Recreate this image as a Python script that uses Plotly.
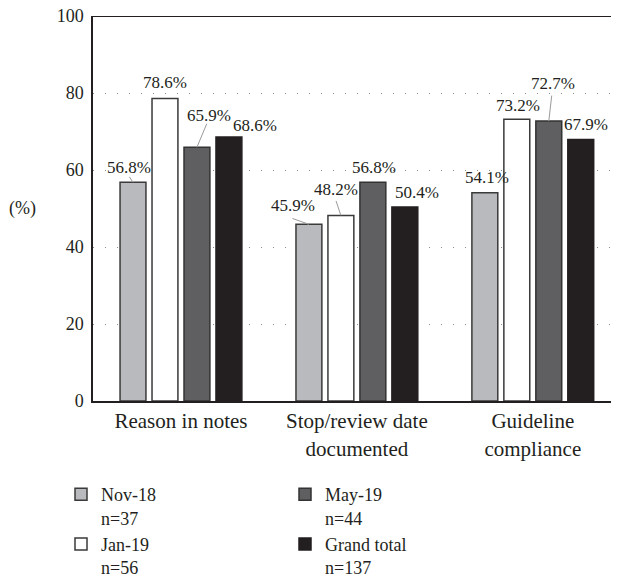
import plotly.graph_objects as go

# ---------------- data ----------------
categories = ["Reason in notes", "Stop/review date<br>documented", "Guideline<br>compliance"]
series_names = ["Nov-18", "Jan-19", "May-19", "Grand total"]
series_n = [37, 56, 44, 137]
nov18 = [56.8, 45.9, 54.1]
jan19 = [78.6, 48.2, 73.2]
may19 = [65.9, 56.8, 72.7]
grand_total = [68.6, 50.4, 67.9]
y_tick_vals = [0, 20, 40, 60, 80, 100]

series_values = [nov18, jan19, may19, grand_total]

# ---------------- style ----------------
W, H = 619, 584
OFF = 8  # page body margin
ML, MR, MT, MB = 93 - OFF, OFF, 16 - OFF, 584 - 401 + OFF
XRANGE = [-0.5, 2.49]
BARGAP = 0.273
BARGROUPGAP = 0.19
FONT = "Liberation Serif"
TXT = "#231f20"
fills = ["#b9babd", "#ffffff", "#5f5f62", "#231f20"]
lines = ["#3a3a3a", "#3a3a3a", "#333333", "#231f20"]

# label offsets (dx, dy in px relative to bar top centre)
label_style = [
    [(-4, -15), (-16, -19), (2, -15)],
    [(0, -16), (-5, -26), (1, -14)],
    [(12, -32), (1, -15), (4, -38)],
    [(26, -11), (12, -14), (5, -15)],
]
# leader line start offsets (px relative to bar top centre), None = no leader
leader_style = [
    [(-4, -6), (-17, -6), None],
    [None, (-5, -15), None],
    [(10, -24), None, (3, -26)],
    [None, None, None],
]

fig = go.Figure()
for i, (name, n, vals) in enumerate(zip(series_names, series_n, series_values)):
    fig.add_trace(go.Bar(
        x=categories, y=vals,
        name=f"{name}<br>n={n}",
        marker=dict(color=fills[i], line=dict(color=lines[i], width=1.5)),
        legend="legend" if i in (0, 1) else "legend2",
        hoverinfo="skip",
    ))

plot_w = W - ML - MR
px_per_cat = plot_w / (XRANGE[1] - XRANGE[0])
slot = px_per_cat * (1 - BARGAP) / len(series_names)

annotations = []
for i, vals in enumerate(series_values):
    off = (i - (len(series_names) - 1) / 2) * slot
    for j, v in enumerate(vals):
        dx, dy = label_style[i][j]
        annotations.append(dict(
            x=categories[j], y=v, xref="x", yref="y", text=f"{v:.1f}%",
            showarrow=False, xanchor="center", yanchor="middle",
            xshift=off + dx, yshift=-dy,
            font=dict(family=FONT, size=17, color=TXT),
        ))
        ld = leader_style[i][j]
        if ld is not None:
            annotations.append(dict(
                x=categories[j], y=v, xref="x", yref="y", text="",
                showarrow=True, arrowhead=0, arrowwidth=1, arrowcolor="#9a9a9a",
                ax=ld[0], ay=ld[1], xshift=off, standoff=0, startstandoff=0,
                borderpad=0,
            ))

annotations.append(dict(
    x=0, y=0.5, xref="paper", yref="paper", text="(%)", showarrow=False,
    xanchor="right", yanchor="middle", xshift=-55,
    font=dict(family=FONT, size=18, color=TXT),
))

fig.update_layout(
    width=W, height=H,
    margin=dict(l=ML, r=MR, t=MT, b=MB, pad=0, autoexpand=False),
    paper_bgcolor="white", plot_bgcolor="white",
    barmode="group", bargap=BARGAP, bargroupgap=BARGROUPGAP,
    font=dict(family=FONT, size=18, color=TXT),
    xaxis=dict(
        range=XRANGE, showgrid=False, showline=True, linecolor="#231f20", linewidth=2,
        ticks="", tickfont=dict(size=21, family=FONT, color=TXT), tickangle=0,
        fixedrange=True, ticklabeloverflow="allow",
    ),
    yaxis=dict(
        range=[0, 100], tickvals=y_tick_vals, showline=True, linecolor="#231f20",
        linewidth=1.5, showgrid=True, gridcolor="#8a8a8a", gridwidth=1,
        griddash="1px,11px", zeroline=False, ticks="", ticklabelstandoff=4,
        tickfont=dict(size=18, family=FONT, color=TXT), ticklabeloverflow="allow",
    ),
    showlegend=True,
    legend=dict(
        xref="container", yref="container", x=53 / W, y=1 - 468 / H,
        xanchor="left", yanchor="top", orientation="v", valign="top",
        font=dict(family=FONT, size=18, color=TXT), bgcolor="rgba(0,0,0,0)",
        tracegroupgap=0,
    ),
    legend2=dict(
        xref="container", yref="container", x=277 / W, y=1 - 468 / H,
        xanchor="left", yanchor="top", orientation="v", valign="top",
        font=dict(family=FONT, size=18, color=TXT), bgcolor="rgba(0,0,0,0)",
        tracegroupgap=0,
    ),
    annotations=annotations,
    shapes=[dict(type="line", xref="paper", yref="y", x0=0, x1=1, y0=100, y1=100,
                 line=dict(color="#231f20", width=2))],
)

fig.write_html("out.html")
